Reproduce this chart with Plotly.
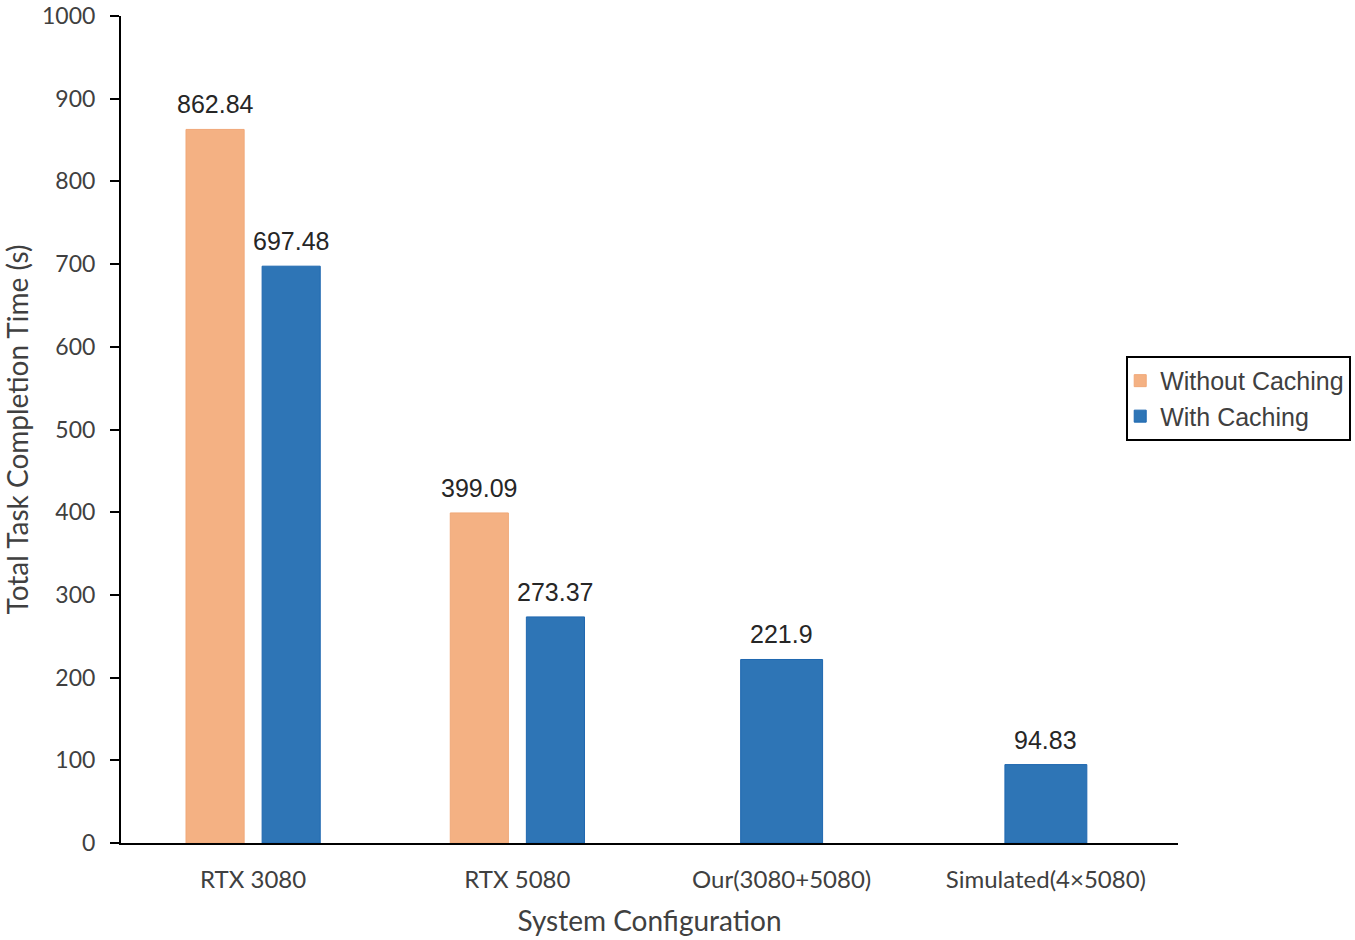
import plotly.graph_objects as go

categories = ["RTX 3080", "RTX 5080", "Our(3080+5080)", "Simulated(4×5080)"]
without_caching = [862.84, 399.09, None, None]
with_caching = [697.48, 273.37, 221.9, 94.83]
y_ticks = list(range(0, 1001, 100))

ORANGE = "#F4B183"
ORANGE_LINE = "#F0A878"
BLUE = "#2E75B6"
BLUE_LINE = "#1F68B0"

x_idx = list(range(len(categories)))
# bar geometry (category units)
pair_w = 0.22
single_w = 0.31
orange_off = -0.254
blue_off_pair = 0.034

def blue_geom(i):
    if without_caching[i] is None:
        return -single_w / 2, single_w
    return blue_off_pair, pair_w

fig = go.Figure()
fig.add_trace(go.Bar(
    name="Without Caching", x=x_idx, y=without_caching,
    offset=[orange_off] * len(x_idx), width=[pair_w] * len(x_idx),
    marker=dict(color=ORANGE, line=dict(color=ORANGE_LINE, width=1)),
))
fig.add_trace(go.Bar(
    name="With Caching", x=x_idx, y=with_caching,
    offset=[blue_geom(i)[0] for i in x_idx], width=[blue_geom(i)[1] for i in x_idx],
    marker=dict(color=BLUE, line=dict(color=BLUE_LINE, width=1)),
))

LABEL_FONT = dict(family="Liberation Sans, Arial", size=25, color="#262626")
annotations = []
for i in x_idx:
    if without_caching[i] is not None:
        annotations.append(dict(x=i + orange_off + pair_w / 2, y=without_caching[i],
                                text=f"{without_caching[i]:g}", showarrow=False,
                                yanchor="bottom", yshift=9, font=LABEL_FONT))
    off, w = blue_geom(i)
    annotations.append(dict(x=i + off + w / 2, y=with_caching[i],
                            text=f"{with_caching[i]:g}", showarrow=False,
                            yanchor="bottom", yshift=9, font=LABEL_FONT))

fig.update_layout(
    width=1355, height=940,
    margin=dict(l=121, r=177, t=16, b=97, autoexpand=False),
    paper_bgcolor="white", plot_bgcolor="white",
    barmode="overlay",
    annotations=annotations,
    showlegend=True,
    legend=dict(x=0.951, y=0.589, xanchor="left", yanchor="top",
                bordercolor="black", borderwidth=2, bgcolor="white",
                font=dict(family="Liberation Sans, Arial", size=25, color="#404040"),
                tracegroupgap=0, itemwidth=30, indentation=-8),
    xaxis=dict(
        range=[-0.5, 3.5], tickmode="array", tickvals=x_idx, ticktext=categories,
        showline=True, linecolor="black", linewidth=2, ticks="", showgrid=False,
        zeroline=False, automargin=False,
        tickfont=dict(family="Lato", size=24, color="#404040"),
        ticklabelstandoff=14,
        title=dict(text="System Configuration", standoff=20,
                   font=dict(family="Lato", size=28, color="#404040")),
    ),
    yaxis=dict(
        range=[0, 1000], tickmode="array", tickvals=y_ticks,
        showline=True, linecolor="black", linewidth=2,
        ticks="outside", ticklen=9, tickwidth=2, tickcolor="black",
        showgrid=False, zeroline=False, automargin=False,
        ticklabeloverflow="allow",
        tickfont=dict(family="Lato", size=23, color="#404040"),
        ticklabelstandoff=10,
        title=dict(text="Total Task Completion Time (s)", standoff=20,
                   font=dict(family="Lato", size=28, color="#404040")),
    ),
)

fig.write_html("out.html", config={"displayModeBar": False},
               post_script="document.body.style.margin='0';")
